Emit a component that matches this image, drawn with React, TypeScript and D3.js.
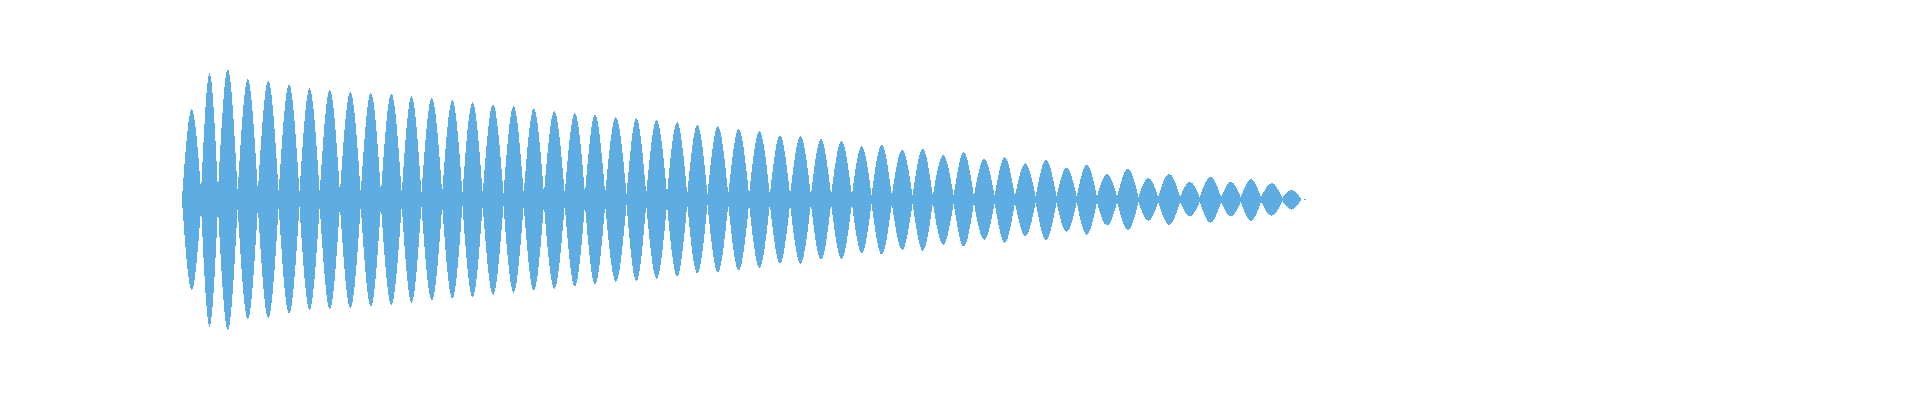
import React from 'react';
import * as d3 from 'd3';

// time (s) of each envelope node (the narrow waists between beats)
const nodeTimes = [
  0, 0.034, 0.064, 0.099, 0.135, 0.172, 0.209, 0.245, 0.281, 0.318, 0.354, 0.391,
  0.426, 0.463, 0.499, 0.535, 0.572, 0.608, 0.644, 0.681, 0.717, 0.753, 0.791,
  0.826, 0.863, 0.899, 0.935, 0.972, 1.009, 1.046, 1.082, 1.119, 1.155, 1.192,
  1.227, 1.263, 1.300, 1.336, 1.373, 1.409, 1.446, 1.482, 1.519, 1.556, 1.592,
  1.628, 1.664, 1.702, 1.737, 1.776, 1.811, 1.849, 1.884, 1.920, 1.958, 1.991,
];

// half-height of the waveform at each node
const nodeAmp = [
  0.01, 0.065, 0.065, 0.06, 0.06, 0.055, 0.055, 0.05, 0.05, 0.05, 0.05, 0.05,
  0.048, 0.048, 0.046, 0.046, 0.045, 0.045, 0.044, 0.044, 0.042, 0.042, 0.04,
  0.04, 0.04, 0.038, 0.038, 0.036, 0.036, 0.035, 0.034, 0.033, 0.032, 0.031,
  0.03, 0.03, 0.029, 0.028, 0.027, 0.026, 0.025, 0.024, 0.024, 0.023, 0.022,
  0.022, 0.021, 0.02, 0.02, 0.019, 0.018, 0.018, 0.017, 0.016, 0.012, 0.005,
];

// max sample value in each beat
const peakMax = [
  0.689, 0.963, 0.994, 0.918, 0.907, 0.879, 0.849, 0.841, 0.823, 0.818, 0.811,
  0.79, 0.777, 0.76, 0.744, 0.729, 0.714, 0.696, 0.676, 0.663, 0.653, 0.63,
  0.622, 0.607, 0.592, 0.569, 0.561, 0.538, 0.523, 0.492, 0.485, 0.462, 0.449,
  0.408, 0.418, 0.38, 0.388, 0.34, 0.363, 0.311, 0.324, 0.276, 0.304, 0.243,
  0.266, 0.197, 0.235, 0.166, 0.197, 0.136, 0.174, 0.136, 0.156, 0.126, 0.073,
];

// min sample value in each beat
const peakMin = [
  -0.691, -0.971, -0.996, -0.915, -0.907, -0.874, -0.844, -0.838, -0.831, -0.818, -0.805,
  -0.788, -0.773, -0.757, -0.747, -0.729, -0.711, -0.696, -0.681, -0.666, -0.65, -0.63,
  -0.627, -0.605, -0.589, -0.566, -0.559, -0.543, -0.521, -0.49, -0.49, -0.462, -0.454,
  -0.411, -0.421, -0.385, -0.391, -0.347, -0.36, -0.309, -0.33, -0.279, -0.309, -0.248,
  -0.269, -0.2, -0.233, -0.164, -0.195, -0.131, -0.179, -0.131, -0.164, -0.124, -0.078,
];

// the last stray sample after the decay
const tailTimes = [1.996, 2.0];
const tailAmp = 0.004;

const duration = 2.0;

interface Pt {
  t: number;
  hi: number;
  lo: number;
}

const width = 1920;
const height = 400;

export default function App() {
  const x = d3.scaleLinear().domain([0, duration]).range([182, 1306]);
  const y = d3.scaleLinear().domain([-1, 1]).range([330.5, 68.5]);

  const area = d3
    .area<Pt>()
    .x((d) => x(d.t))
    .y0((d) => y(d.lo))
    .y1((d) => y(d.hi))
    .curve(d3.curveNatural);

  const lobes: Pt[][] = peakMax.map((p, i) => {
    const t0 = nodeTimes[i];
    const t1 = nodeTimes[i + 1];
    return [
      { t: t0, hi: nodeAmp[i], lo: -nodeAmp[i] },
      { t: (t0 + t1) / 2, hi: p, lo: peakMin[i] },
      { t: t1, hi: nodeAmp[i + 1], lo: -nodeAmp[i + 1] },
    ];
  });
  lobes.push(tailTimes.map((t) => ({ t, hi: tailAmp, lo: -tailAmp })));

  const d = lobes.map((l) => area(l)).join('');

  return (
    <div style={{ position: 'absolute', left: 0, top: 0 }}>
      <svg width={width} height={height} style={{ display: 'block', background: '#fff' }}>
        <path d={d} fill='#5dade2' shapeRendering='crispEdges' />
      </svg>
    </div>
  );
}
